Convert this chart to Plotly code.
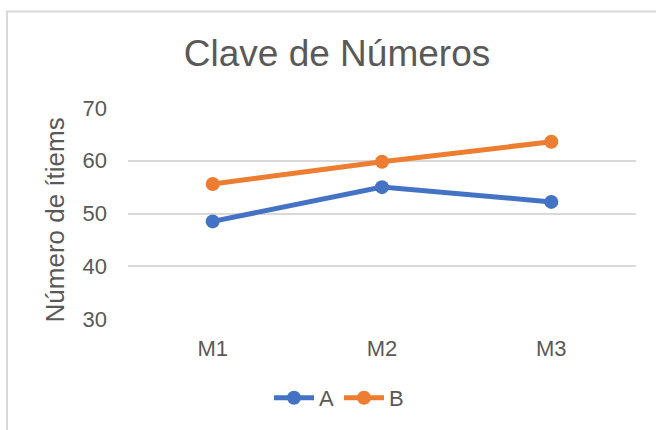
import plotly.graph_objects as go

categories = ["M1", "M2", "M3"]
series_a = [48.5, 55.0, 52.2]
series_b = [55.6, 59.8, 63.6]

W, H = 656, 430
L, R, T, B = 128, 20, 108, 110
pw, ph = W - L - R, H - T - B

def px(x):
    return (x - L) / pw

def py(y):
    return (H - B - y) / ph

font_fam = "Liberation Sans, Arial, sans-serif"
grey = "#595959"

fig = go.Figure()
fig.add_trace(go.Scatter(x=categories, y=series_a, name="A", mode="lines+markers",
                         line=dict(color="#4472C4", width=5),
                         marker=dict(size=14, color="#4472C4")))
fig.add_trace(go.Scatter(x=categories, y=series_b, name="B", mode="lines+markers",
                         line=dict(color="#ED7D31", width=5),
                         marker=dict(size=14, color="#ED7D31")))

fig.update_layout(
    width=W, height=H,
    margin=dict(l=L, r=R, t=T, b=B),
    paper_bgcolor="white", plot_bgcolor="white",
    font=dict(family=font_fam, color=grey, size=22),
    title=dict(text="Clave de Números", x=px(337), xref="paper", xanchor="center",
               y=1 - 53 / H, yanchor="middle",
               font=dict(size=37, color=grey, family=font_fam)),
    xaxis=dict(range=[-0.5, 2.5], showgrid=False, zeroline=False, showline=False,
               ticks="", tickfont=dict(size=22, color=grey), ticklabelstandoff=14),
    yaxis=dict(range=[30, 70], dtick=10, showgrid=True, gridcolor="#D9D9D9", gridwidth=1.5,
               zeroline=False, showline=False, ticks="", tickfont=dict(size=22, color=grey),
               ticklabelstandoff=20),
    legend=dict(orientation="h", x=px(339), xanchor="center", y=py(398), yanchor="middle",
                font=dict(size=22, color=grey), itemwidth=40, tracegroupgap=0),
    showlegend=True,
)

fig.add_annotation(text="Número de ítiems", textangle=-90, xref="paper", yref="paper",
                   x=px(55), y=py(221), xanchor="center", yanchor="middle", showarrow=False,
                   font=dict(size=26, color=grey, family=font_fam))

fig.add_shape(type="rect", xref="paper", yref="paper",
              x0=px(7), x1=px(670), y0=py(11), y1=py(445),
              line=dict(color="#D9D9D9", width=2), fillcolor="rgba(0,0,0,0)", layer="below")

fig.write_html("out.html", config={"displayModeBar": False},
               post_script="document.body.style.margin='0px';")
